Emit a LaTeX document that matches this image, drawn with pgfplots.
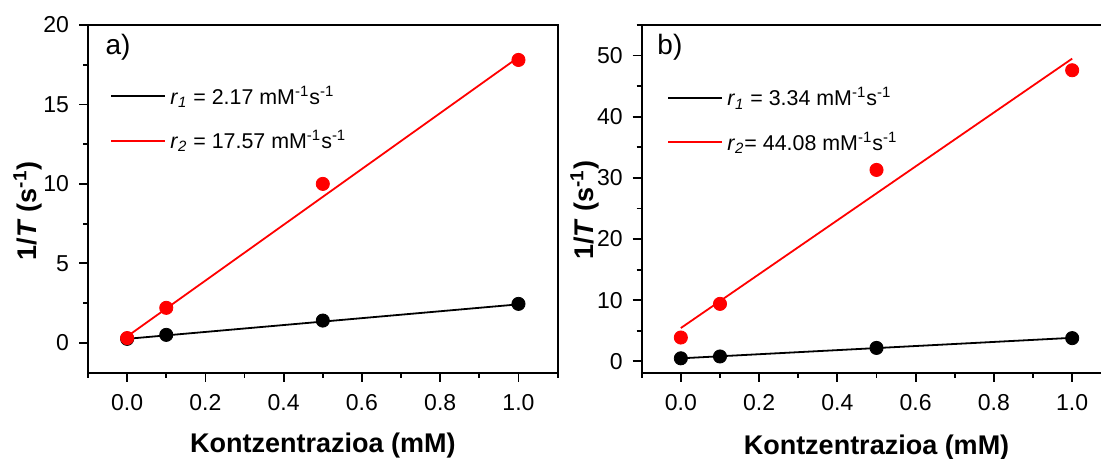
\documentclass[border=0pt]{standalone}
\usepackage{pgfplots}
\pgfplotsset{compat=1.18}
\usepackage{fontspec}
\setmainfont{Liberation Sans}
\definecolor{myred}{RGB}{255,0,0}

\pgfplotsset{
  myaxis/.style={
    scale only axis, width=234.8pt, height=174pt,
    anchor=south west,
    axis line style={line width=1pt},
    tick align=outside, tick pos=left,
    major tick length=4.5pt, minor tick length=2.5pt,
    every tick/.style={black, line width=0.9pt},
    xmin=-0.1, xmax=1.1,
    xtick={0,0.2,0.4,0.6,0.8,1.0},
    xticklabels={0.0,0.2,0.4,0.6,0.8,1.0},
    minor xtick={-0.1,0.1,0.3,0.5,0.7,0.9,1.1},
    ticklabel style={font=\fontsize{11.5}{13}\selectfont},
    xticklabel style={yshift=-2.5pt},
    yticklabel style={xshift=-1.5pt},
    xlabel={\textbf{Kontzentrazioa (mM)}},
    ylabel={\textbf{1/\textit{T} (s\textsuperscript{-1})}},
    label style={font=\fontsize{13.5}{16}\selectfont, inner sep=0pt},
    legend style={draw=none, fill=none, font=\fontsize{10.7}{13}\selectfont, row sep=7.5pt, inner sep=0pt},
    legend cell align=left,
    legend image code/.code={\draw[#1, line width=0.9pt] (0pt,0pt) -- (27pt,0pt);},
    clip=false,
  }
}

\begin{document}
\begin{tikzpicture}
% ---------- panel a ----------
\begin{axis}[myaxis, at={(44pt,43pt)},
  ymin=-1.9, ymax=20,
  ytick={0,5,10,15,20}, yticklabels={0,5,10,15,20},
  minor ytick={2.5,7.5,12.5,17.5},
  xlabel style={at={(axis description cs:0.5,0)}, anchor=north, yshift=-30pt},
  ylabel style={at={(axis description cs:-0.128,0.466)}, anchor=center},
  legend style={at={(axis description cs:0.047,0.838)}, anchor=north west},
]
\addplot[black, line width=0.9pt] coordinates {(0,0.25) (1,2.42)};
\addlegendentry{\textit{r}\textsubscript{\textit{1}} = 2.17 mM\textsuperscript{-1}s\textsuperscript{-1}}
\addplot[myred, line width=0.9pt] coordinates {(0,0.4) (1,17.97)};
\addlegendentry{\textit{r}\textsubscript{\textit{2}} = 17.57 mM\textsuperscript{-1}s\textsuperscript{-1}}
\addplot[only marks, mark=*, mark size=3.3pt, black, forget plot] coordinates {(0,0.25) (0.1,0.5) (0.5,1.4) (1.0,2.45)};
\addplot[only marks, mark=*, mark size=3.3pt, myred, forget plot] coordinates {(0,0.3) (0.1,2.2) (0.5,10.0) (1.0,17.8)};
\node[font=\fontsize{14}{16}\selectfont] at (axis description cs:0.064,0.937) {a)};
\end{axis}
% ---------- panel b ----------
\begin{axis}[myaxis, at={(320.85pt,43pt)},
  ymin=-1.9, ymax=55,
  ytick={0,10,20,30,40,50}, yticklabels={0,10,20,30,40,50},
  minor ytick={5,15,25,35,45,55},
  xlabel style={at={(axis description cs:0.5,0)}, anchor=north, yshift=-31pt},
  ylabel style={at={(axis description cs:-0.121,0.468)}, anchor=center},
  legend style={at={(axis description cs:0.054,0.833)}, anchor=north west},
]
\addplot[black, line width=0.9pt] coordinates {(0,0.5) (1,3.85)};
\addlegendentry{\textit{r}\textsubscript{\textit{1}} = 3.34 mM\textsuperscript{-1}s\textsuperscript{-1}}
\addplot[myred, line width=0.9pt] coordinates {(0,5.45) (1,49.5)};
\addlegendentry{\textit{r}\textsubscript{\textit{2}}= 44.08 mM\textsuperscript{-1}s\textsuperscript{-1}}
\addplot[only marks, mark=*, mark size=3.3pt, black, forget plot] coordinates {(0,0.5) (0.1,0.8) (0.5,2.2) (1.0,3.8)};
\addplot[only marks, mark=*, mark size=3.3pt, myred, forget plot] coordinates {(0,3.9) (0.1,9.4) (0.5,31.3) (1.0,47.6)};
\node[font=\fontsize{14}{16}\selectfont] at (axis description cs:0.060,0.937) {b)};
\end{axis}
\pgfresetboundingbox
\path[use as bounding box] (0pt,0pt) rectangle (550.5pt,229.5pt);
\end{tikzpicture}
\end{document}
